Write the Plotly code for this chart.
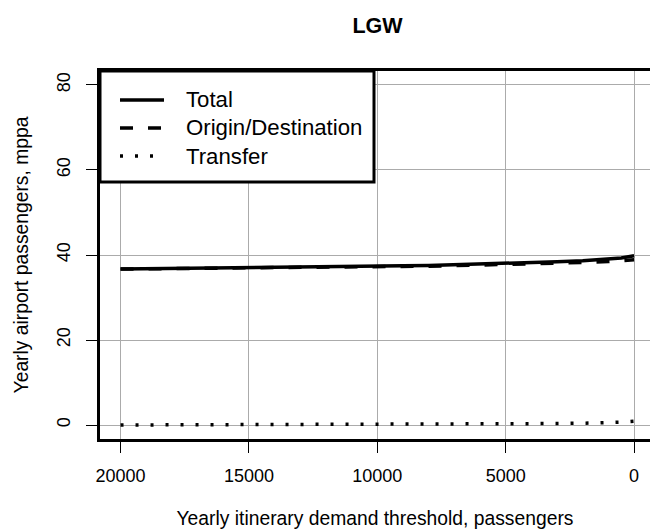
import plotly.graph_objects as go

# Yearly itinerary demand threshold (passengers) and airport passenger totals (mppa)
threshold = [20000, 19000, 18000, 17000, 16000, 15000, 14000, 13000, 12000, 11000,
             10000, 9000, 8000, 7000, 6000, 5000, 4000, 3000, 2000, 1000, 500, 0]
total = [36.70, 36.75, 36.80, 36.85, 36.90, 36.95, 37.00, 37.05, 37.15, 37.25,
         37.35, 37.45, 37.55, 37.70, 37.85, 38.00, 38.20, 38.40, 38.65, 39.00, 39.30, 39.80]
origin_destination = [36.70, 36.74, 36.78, 36.82, 36.86, 36.90, 36.94, 36.97, 37.05, 37.13,
                      37.21, 37.29, 37.37, 37.50, 37.62, 37.74, 37.90, 38.05, 38.23, 38.45, 38.62, 38.90]
transfer = [0.00, 0.01, 0.02, 0.03, 0.04, 0.05, 0.06, 0.08, 0.10, 0.12,
            0.14, 0.16, 0.18, 0.20, 0.23, 0.26, 0.30, 0.35, 0.42, 0.55, 0.68, 0.90]

x_ticks = [20000, 15000, 10000, 5000, 0]
y_ticks = [0, 20, 40, 60, 80]

series_names = ["Total", "Origin/Destination", "Transfer"]
series_dash = ["solid", "13px,15px", "3px,12px"]

FONT = "Liberation Sans, Arial, Helvetica, sans-serif"
W, H = 650, 531
L, R, T, B = 100, 0, 71, 92
GRID = "#ababab"
LW = 3.5

fig = go.Figure()
for name, ys, dash in zip(series_names, [total, origin_destination, transfer], series_dash):
    fig.add_trace(go.Scatter(x=threshold, y=ys, mode="lines", name=name,
                             line=dict(color="black", width=LW, dash=dash),
                             showlegend=False))

# pixel -> paper helpers for the legend box
pw, ph = W - L - R, H - T - B
def px(x):
    return (x - L) / pw
def py(y):
    return (H - B - y) / ph

shapes = [dict(type="rect", xref="paper", yref="paper",
               x0=px(100), x1=px(374), y0=py(182), y1=py(71),
               line=dict(color="black", width=3), fillcolor="white", layer="above")]
annotations = []
for i, (name, dash) in enumerate(zip(series_names, series_dash)):
    yy = 100 + i * 28
    shapes.append(dict(type="line", xref="paper", yref="paper",
                       x0=px(120), x1=px(164), y0=py(yy), y1=py(yy),
                       line=dict(color="black", width=LW, dash=dash), layer="above"))
    annotations.append(dict(text=name, xref="paper", yref="paper",
                            x=px(184), y=py(yy), xanchor="left", yanchor="middle",
                            showarrow=False, font=dict(size=22.2, color="black", family=FONT)))

fig.update_layout(
    width=W, height=H,
    margin=dict(l=L, r=R, t=T, b=B),
    paper_bgcolor="white", plot_bgcolor="white",
    font=dict(family=FONT, size=18, color="black"),
    title=dict(text="<b>LGW</b>", x=377.5 / W, xanchor="center", y=1 - 25 / H, yanchor="middle",
               font=dict(size=21.5, family=FONT, color="black")),
    shapes=shapes, annotations=annotations,
    xaxis=dict(range=[20800, -620], tickvals=x_ticks, ticktext=[str(v) for v in x_ticks],
               showgrid=True, gridcolor=GRID, gridwidth=1, zeroline=False,
               showline=True, linecolor="black", linewidth=3, mirror=True,
               ticks="outside", ticklen=11, tickwidth=1, tickcolor="black",
               ticklabelstandoff=7,
               title=dict(text="Yearly itinerary demand threshold, passengers", standoff=27,
                          font=dict(size=19.3)),
               tickfont=dict(size=18)),
    yaxis=dict(range=[-3.29, 83.29], tickvals=y_ticks, ticktext=[str(v) for v in y_ticks],
               showgrid=True, gridcolor=GRID, gridwidth=1, zeroline=False,
               showline=True, linecolor="black", linewidth=3, mirror=False,
               ticks="outside", ticklen=11, tickwidth=1, tickcolor="black", tickangle=-90,
               ticklabelstandoff=9,
               title=dict(text="Yearly airport passengers, mppa", standoff=21,
                          font=dict(size=19.3)),
               tickfont=dict(size=18)),
)

fig.write_html("out.html")
